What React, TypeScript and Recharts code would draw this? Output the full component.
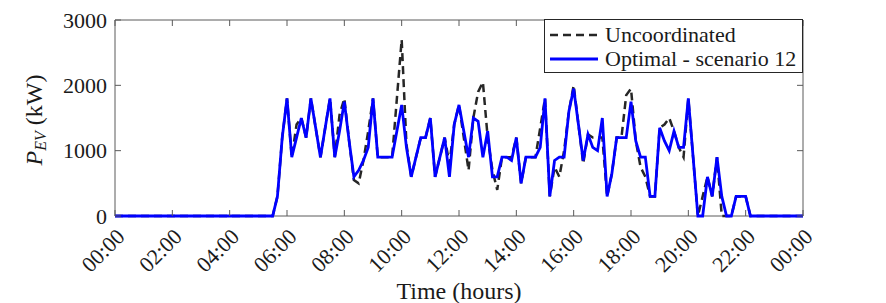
import React from 'react';
import { LineChart, Line, XAxis, YAxis, Legend, ReferenceArea } from 'recharts';

// 10-minute samples of EV charging power over the day (kW)
const times = [
  '00:00',
  '05:30', '05:40', '05:50',
  '06:00', '06:10', '06:20', '06:30', '06:40', '06:50',
  '07:00', '07:10', '07:20', '07:30', '07:40', '07:50',
  '08:00', '08:10', '08:20', '08:30', '08:40', '08:50',
  '09:00', '09:10', '09:20', '09:30', '09:40', '09:50',
  '10:00', '10:10', '10:20', '10:30', '10:40', '10:50',
  '11:00', '11:10', '11:20', '11:30', '11:40', '11:50',
  '12:00', '12:10', '12:20', '12:30', '12:40', '12:50',
  '13:00', '13:10', '13:20', '13:30', '13:40', '13:50',
  '14:00', '14:10', '14:20', '14:30', '14:40', '14:50',
  '15:00', '15:10', '15:20', '15:30', '15:40', '15:50',
  '16:00', '16:10', '16:20', '16:30', '16:40', '16:50',
  '17:00', '17:10', '17:20', '17:30', '17:40', '17:50',
  '18:00', '18:10', '18:20', '18:30', '18:40', '18:50',
  '19:00', '19:10', '19:20', '19:30', '19:40', '19:50',
  '20:00', '20:10', '20:20', '20:30', '20:40', '20:50',
  '21:00', '21:10', '21:20', '21:30', '21:40', '21:50',
  '22:00', '22:10',
  '24:00',
];

const uncoordinatedKW = [
  0,
  0, 300, 1200,
  1800, 900, 1400, 1500, 1200, 1800,
  1350, 900, 1350, 1800, 900, 1550,
  1800, 1150, 550, 500, 850, 1300,
  1800, 900, 900, 900, 900, 1800,
  2700, 1100, 600, 900, 1200, 1200,
  1500, 600, 900, 1200, 800, 1400,
  1700, 1200, 700, 1500, 1900, 2050,
  1200, 700, 400, 900, 900, 900,
  1200, 500, 900, 900, 900, 1350,
  1800, 300, 750, 600, 1000, 1600,
  2000, 1400, 800, 1250, 1200, 1200,
  1200, 300, 650, 1200, 1200, 1850,
  1950, 1150, 750, 600, 300, 300,
  1350, 1400, 1500, 1300, 1050, 900,
  1800, 900, 0, 300, 600, 300,
  900, 0, 0, 0, 300, 300,
  300, 0,
  0,
];

const optimalKW = [
  0,
  0, 300, 1200,
  1800, 900, 1200, 1500, 1200, 1800,
  1350, 900, 1350, 1800, 900, 1300,
  1750, 1150, 600, 700, 850, 1050,
  1800, 900, 900, 900, 900, 1300,
  1700, 1050, 600, 900, 1200, 1200,
  1500, 600, 900, 1200, 600, 1400,
  1700, 1300, 900, 1500, 1450, 900,
  1300, 600, 600, 900, 900, 850,
  1200, 500, 900, 900, 900, 1050,
  1800, 300, 850, 900, 900, 1600,
  1950, 1400, 850, 1250, 1050, 1000,
  1500, 300, 650, 1200, 1200, 1200,
  1750, 1150, 900, 900, 300, 300,
  1350, 1150, 1000, 1300, 1050, 1050,
  1800, 900, 0, 0, 600, 300,
  900, 300, 0, 0, 300, 300,
  300, 0,
  0,
];

const hourTicks = [0, 2, 4, 6, 8, 10, 12, 14, 16, 18, 20, 22, 24];
const hourTickLabels = ['00:00', '02:00', '04:00', '06:00', '08:00', '10:00', '12:00',
  '14:00', '16:00', '18:00', '20:00', '22:00', '00:00'];
const powerTicks = [0, 1000, 2000, 3000];
const seriesNames = ['Uncoordinated', 'Optimal - scenario 12'];

const FONT = '"Liberation Serif", "Times New Roman", serif';
const TEXT = '#1a1a1a';
const AXIS = '#5a5a5a';
const BLUE = '#0000ff';
const DARK = '#262626';

const WIDTH = 886;
const HEIGHT = 303;
const MARGIN = { top: 20, right: 83, bottom: 27, left: 40 };
const Y_AXIS_W = 75;
const X_AXIS_H = 60;
const PLOT_LEFT = MARGIN.left + Y_AXIS_W;
const PLOT_RIGHT = WIDTH - MARGIN.right;
const PLOT_TOP = MARGIN.top;
const PLOT_BOTTOM = HEIGHT - MARGIN.bottom - X_AXIS_H;
const TICK_LEN = 6;

const toHours = (t: string) => {
  const [h, m] = t.split(':').map(Number);
  return h + m / 60;
};

const data = times.map((t, i) => ({
  hour: toHours(t),
  uncoordinated: uncoordinatedKW[i],
  optimal: optimalKW[i],
}));

const XTick = (props: any) => {
  const { x, payload } = props;
  const idx = hourTicks.indexOf(payload.value);
  const tx = x + 11;
  const ty = PLOT_BOTTOM + 22;
  return (
    <g>
      <line x1={x} x2={x} y1={PLOT_BOTTOM} y2={PLOT_BOTTOM - TICK_LEN} stroke={AXIS} />
      <line x1={x} x2={x} y1={PLOT_TOP} y2={PLOT_TOP + TICK_LEN} stroke={AXIS} />
      <text x={tx} y={ty} transform={`rotate(-45 ${tx} ${ty})`} textAnchor="end"
        fontFamily={FONT} fontSize={22} fill={TEXT}>
        {hourTickLabels[idx]}
      </text>
    </g>
  );
};

const YTick = (props: any) => {
  const { y, payload } = props;
  return (
    <g>
      <line x1={PLOT_LEFT} x2={PLOT_LEFT + TICK_LEN} y1={y} y2={y} stroke={AXIS} />
      <line x1={PLOT_RIGHT} x2={PLOT_RIGHT - TICK_LEN} y1={y} y2={y} stroke={AXIS} />
      <text x={PLOT_LEFT - 8} y={y} textAnchor="end" dominantBaseline="central"
        fontFamily={FONT} fontSize={22} fill={TEXT}>
        {payload.value}
      </text>
    </g>
  );
};

const YTitle = () => {
  const cx = 42;
  const cy = 120;
  return (
    <text x={cx} y={cy} transform={`rotate(-90 ${cx} ${cy})`} textAnchor="middle"
      fontFamily={FONT} fontSize={24} fill={TEXT}>
      <tspan fontStyle="italic">P</tspan>
      <tspan fontStyle="italic" fontSize={16} dy={4}>EV</tspan>
      <tspan dy={-4}> (kW)</tspan>
    </text>
  );
};

const XTitle = () => (
  <text x={(PLOT_LEFT + PLOT_RIGHT) / 2} y={299} textAnchor="middle"
    fontFamily={FONT} fontSize={24} fill={TEXT}>
    Time (hours)
  </text>
);

const LegendBox = () => (
  <div style={{
    position: 'relative', width: 259, height: 54, boxSizing: 'border-box',
    border: `1px solid ${DARK}`, background: '#fff', fontFamily: FONT, fontSize: 22, color: TEXT,
  }}>
    {seriesNames.map((name, i) => (
      <div key={name} style={{ position: 'absolute', left: 4, top: 3 + i * 24, height: 24, display: 'flex', alignItems: 'center' }}>
        <svg width={50} height={24} style={{ display: 'block' }}>
          <line x1={1} x2={49} y1={12} y2={12}
            stroke={i === 0 ? DARK : BLUE} strokeWidth={i === 0 ? 2.5 : 3}
            strokeDasharray={i === 0 ? '8 5' : undefined} />
        </svg>
        <span style={{ marginLeft: 6, whiteSpace: 'nowrap', lineHeight: '24px' }}>{name}</span>
      </div>
    ))}
  </div>
);

const EvPowerChart = () => (
  <LineChart width={WIDTH} height={HEIGHT} data={data} margin={MARGIN}>
    <ReferenceArea x1={0} x2={24} y1={0} y2={3000} fill="none" stroke={AXIS} strokeWidth={1} ifOverflow="visible" />
    <XAxis dataKey="hour" type="number" domain={[0, 24]} ticks={hourTicks} interval={0}
      height={X_AXIS_H} axisLine={false} tickLine={false} tickSize={0} tick={<XTick />}
      label={{ content: () => <XTitle /> }} />
    <YAxis type="number" domain={[0, 3000]} ticks={powerTicks} interval={0} width={Y_AXIS_W}
      axisLine={false} tickLine={false} tickSize={0} tick={<YTick />}
      label={{ content: () => <YTitle /> }} />
    <Legend layout="horizontal" verticalAlign="middle" align="center" content={() => <LegendBox />}
      wrapperStyle={{ left: 544, top: 19, width: 259, height: 54 }} />
    <Line type="linear" dataKey="uncoordinated" name={seriesNames[0]} stroke={DARK} strokeWidth={2.5}
      strokeDasharray="8 5" dot={false} activeDot={false} isAnimationActive={false} />
    <Line type="linear" dataKey="optimal" name={seriesNames[1]} stroke={BLUE} strokeWidth={2.8}
      dot={false} activeDot={false} isAnimationActive={false} />
  </LineChart>
);

export default function App() {
  return (
    <div style={{ position: 'absolute', left: 0, top: 0, background: '#fff' }}>
      <EvPowerChart />
    </div>
  );
}
